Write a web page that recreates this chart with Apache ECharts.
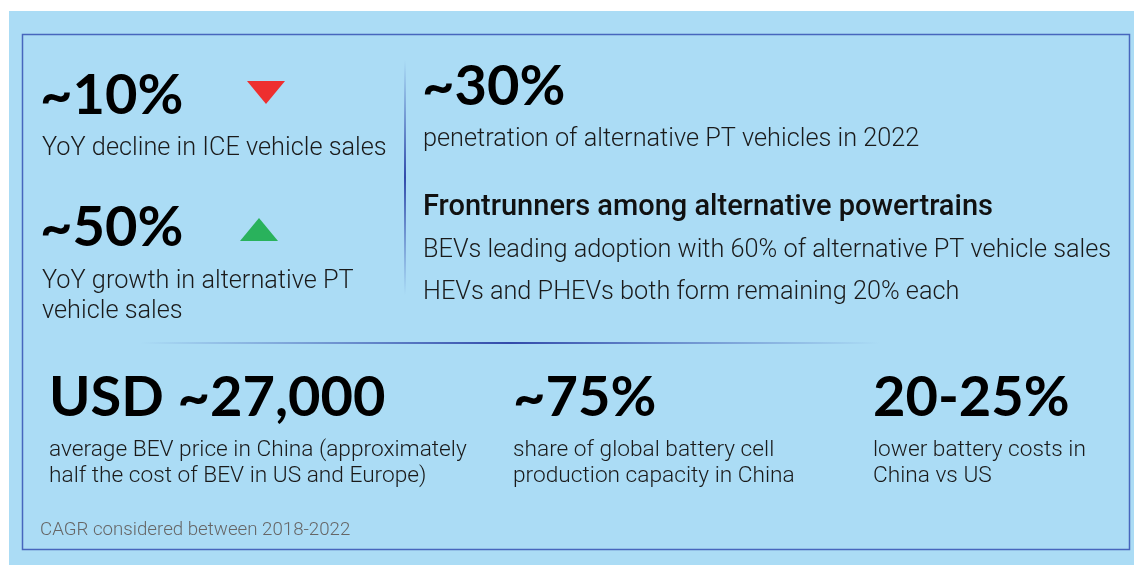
<!DOCTYPE html>
<html>
<head>
<meta charset="utf-8">
<script src="https://cdn.jsdelivr.net/npm/echarts@6/dist/echarts.min.js"></script>
<style>
  html, body { margin: 0; padding: 0; background: #ffffff; }
  #main { width: 1134px; height: 565px; }
</style>
</head>
<body>
<div id="main"></div>
<script>
// key figures
var figures  = ['~10%', '~50%', '~30%', 'USD ~27,000', '~75%', '20-25%'];
var captions = [
    ['YoY decline in ICE vehicle sales'],
    ['YoY growth in alternative PT', 'vehicle sales'],
    ['penetration of alternative PT vehicles in 2022'],
    ['average BEV price in China (approximately', 'half the cost of BEV in US and Europe)'],
    ['share of global battery cell', 'production capacity in China'],
    ['lower battery costs in', 'China vs US']
];
var subTitle = 'Frontrunners among alternative powertrains';
var subLines = [
    'BEVs leading adoption with 60% of alternative PT vehicle sales',
    'HEVs and PHEVs both form remaining 20% each'
];
var footNote = 'CAGR considered between 2018-2022';

var dom   = document.getElementById('main');
var chart = echarts.init(dom);

var bigFont  = 'bold 56px Lato, "Open Sans", sans-serif';
var bodyFont = '300 25.3px Roboto, sans-serif';

function txt(s, x, y, font, fill) {
    return {
        type: 'text',
        style: {
            text: s, x: x, y: y, font: font, fill: fill || '#1a1a1a',
            textAlign: 'left', verticalAlign: 'middle'
        }
    };
}

function fade(dir) {
    // gradient: transparent -> dark blue -> transparent
    return new echarts.graphic.LinearGradient(0, 0, dir === 'h' ? 1 : 0, dir === 'h' ? 0 : 1, [
        {offset: 0, color: 'rgba(63,90,180,0)'},
        {offset: 0.5, color: 'rgba(50,75,170,1)'},
        {offset: 1, color: 'rgba(63,90,180,0)'}
    ]);
}

var g = [];
// background panels
g.push({type: 'rect', shape: {x: 9, y: 11, width: 1125, height: 554}, style: {fill: '#abdcf5'}});
g.push({type: 'rect', shape: {x: 22.5, y: 34.5, width: 1107, height: 515},
        style: {fill: 'none', stroke: '#4766bd', lineWidth: 1.5}});
// separators
g.push({type: 'rect', shape: {x: 404, y: 60, width: 2, height: 235}, style: {fill: fade('v')}});
g.push({type: 'rect', shape: {x: 140, y: 342, width: 740, height: 2}, style: {fill: fade('h')}});

// triangles
g.push({type: 'polygon', shape: {points: [[247, 81], [285, 81], [266, 104]]}, style: {fill: '#ee2f2f'}});
g.push({type: 'polygon', shape: {points: [[240, 241], [278, 241], [259, 218]]}, style: {fill: '#29b25c'}});

// left column
g.push(txt(figures[0], 40, 96, bigFont, '#000'));
g.push(txt(captions[0][0], 42, 149, bodyFont));
g.push(txt(figures[1], 40, 228, bigFont, '#000'));
g.push(txt(captions[1][0], 42, 282, bodyFont));
g.push(txt(captions[1][1], 42, 312, bodyFont));

// right column
g.push(txt(figures[2], 422, 87, bigFont, '#000'));
g.push(txt(captions[2][0], 423, 140, bodyFont));
g.push(txt(subTitle, 423, 208, '500 29px Roboto, sans-serif', '#111'));
g.push(txt(subLines[0], 423, 251, bodyFont));
g.push(txt(subLines[1], 423, 293, bodyFont));

// bottom row
var bx = [49, 513, 873];
for (var i = 0; i < 3; i++) {
    g.push(txt(figures[3 + i], bx[i], 398, bigFont, '#000'));
    for (var j = 0; j < captions[3 + i].length; j++) {
        g.push(txt(captions[3 + i][j], bx[i], 450 + j * 26, '300 22.7px Roboto, sans-serif'));
    }
}

g.push(txt(footNote, 40, 530, '300 18.7px Roboto, sans-serif', '#666'));

option = {
    backgroundColor: '#ffffff',
    graphic: {elements: g}
};

chart.setOption(option, true);
</script>
</body>
</html>
